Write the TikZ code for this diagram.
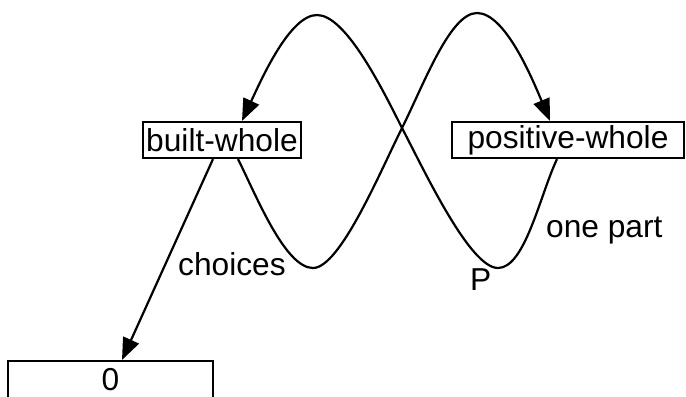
\documentclass[tikz,border=0pt]{standalone}
\usepackage{fontspec}
\setmainfont{Liberation Sans}
\usetikzlibrary{arrows.meta}
\begin{document}
\begin{tikzpicture}[x=1bp,y=-1bp,
  box/.style={draw,line width=2.1bp,inner sep=0pt,font=\fontsize{31.7bp}{38bp}\selectfont},
  lbl/.style={inner sep=0pt,anchor=base west,font=\fontsize{31.7bp}{38bp}\selectfont},
  conn/.style={line width=2.2bp},
  tip/.style={-{Triangle[length=22bp,width=17bp]}}]
\useasboundingbox (0,0) rectangle (686,396);
\node[box,minimum width=158bp,minimum height=36bp] (bw) at (222,140) {built-whole};
\node[box,minimum width=232bp,minimum height=36bp] (pw) at (568,140) {positive-whole};
\node[box,minimum width=205bp,minimum height=44bp,text depth=7bp,anchor=north] (zero) at (110.5,360) {0};
\node[lbl] (ch) at (178,275) {choices};
\node[lbl] (op) at (546,237) {one part};
\node[lbl] (p) at (470,290) {P};
% built-whole -> positive-whole
\draw[conn,tip] ([xshift=16bp]bw.south) .. controls (256,195) and (285,268) .. (313,268)
  .. controls (340,268) and (380,172) .. (402,128)
  .. controls (424,84) and (450,13) .. (477,13)
  .. controls (505,13) and (532,78) .. ([xshift=-18bp]pw.north);
% positive-whole -> built-whole
\draw[conn,tip] ([xshift=-11bp]pw.south) .. controls (540,195) and (525,268) .. (498,268)
  .. controls (470,268) and (425,172) .. (402,128)
  .. controls (380,84) and (345,15) .. (317,15)
  .. controls (290,15) and (262,78) .. ([xshift=20bp]bw.north);
% straight arrow
\draw[conn,tip] ([xshift=-9bp]bw.south) -- ([xshift=11.5bp]zero.north);
\end{tikzpicture}
\end{document}
